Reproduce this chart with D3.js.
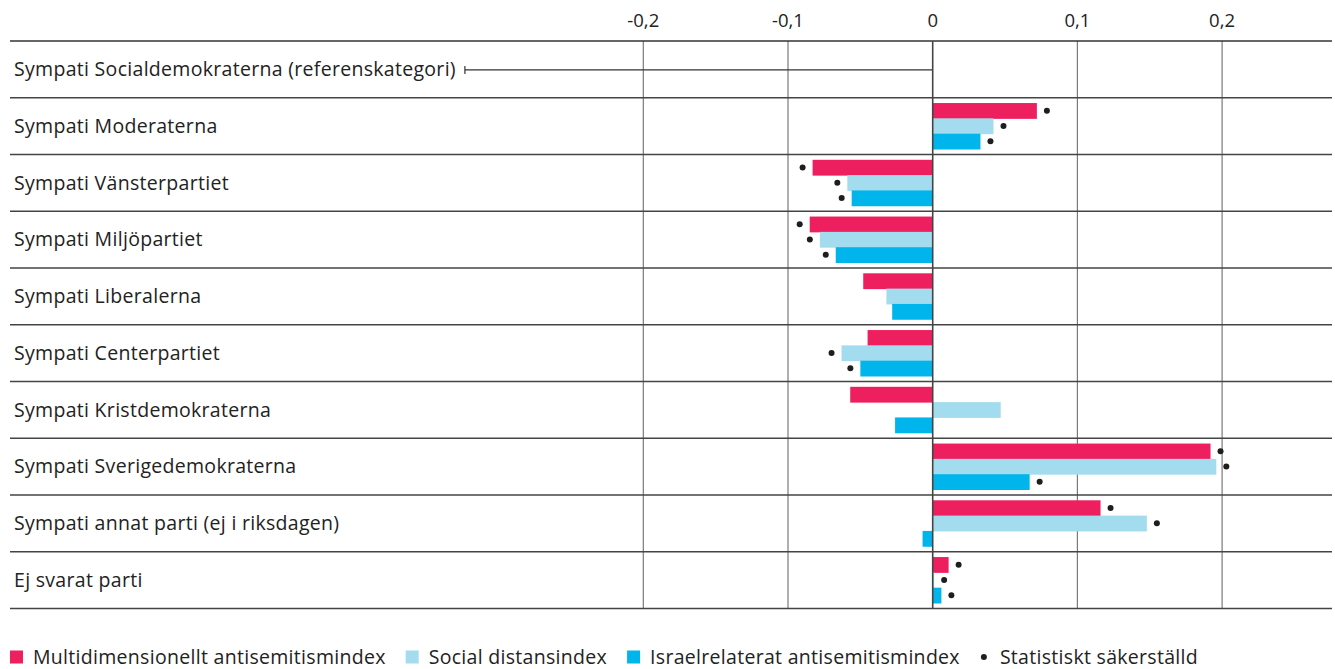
<!DOCTYPE html>
<html>
<head>
<meta charset="utf-8">
<script src="https://cdn.jsdelivr.net/npm/d3@7"></script>
<style>
  body { margin: 0; background: #fff; }
  svg text { font-family: "Open Sans", "Noto Sans", sans-serif; fill: #222; font-size: 19.5px; letter-spacing: 0.3px; }
  svg text.tick { font-size: 18.5px; letter-spacing: 0; }
</style>
</head>
<body>
<div id="chart"></div>
<script>
// categories (top to bottom)
const categories = [
  "Sympati Socialdemokraterna (referenskategori)",
  "Sympati Moderaterna",
  "Sympati Vänsterpartiet",
  "Sympati Miljöpartiet",
  "Sympati Liberalerna",
  "Sympati Centerpartiet",
  "Sympati Kristdemokraterna",
  "Sympati Sverigedemokraterna",
  "Sympati annat parti (ej i riksdagen)",
  "Ej svarat parti"
]
const referenceCategory = "Sympati Socialdemokraterna (referenskategori)"

const seriesNames = [
  "Multidimensionellt antisemitismindex",
  "Social distansindex",
  "Israelrelaterat antisemitismindex"
]
const seriesColors = ["#ee1f5f", "#a3dcee", "#00b5eb"]

// coefficients per category (null = reference category)
const multiValues  = [null, 0.072, -0.083, -0.085, -0.048, -0.045, -0.057, 0.192, 0.116, 0.011]
const socialValues = [null, 0.042, -0.059, -0.078, -0.032, -0.063, 0.047, 0.196, 0.148, 0.001]
const israelValues = [null, 0.033, -0.056, -0.067, -0.028, -0.050, -0.026, 0.067, -0.007, 0.006]

// statistically significant flags
const multiSig  = [false, true, true, true, false, false, false, true, true, true]
const socialSig = [false, true, true, true, false, true, false, true, true, true]
const israelSig = [false, true, true, true, false, true, false, true, false, true]

const tickValues = [-0.2, -0.1, 0, 0.1, 0.2]
const tickLabels = ["-0,2", "-0,1", "0", "0,1", "0,2"]
const sigLabel = "Statistiskt säkerställd"

const width = 1335, height = 669
const frameLeft = 10, frameRight = 1332
const plotTop = 41, plotBottom = 608.5

const svg = d3.select("#chart").append("svg")
  .attr("width", width)
  .attr("height", height)

const x = d3.scaleLinear().domain([-0.2, 0.2]).range([643.3, 1222.1])

const y = d3.scaleBand().domain(categories).range([plotTop, plotBottom]).padding(0)
const ySeries = d3.scaleBand().domain(seriesNames)
  .range([5.3, y.bandwidth() - 5.5]).padding(0)

const series = [
  { name: seriesNames[0], values: multiValues, sig: multiSig, color: seriesColors[0] },
  { name: seriesNames[1], values: socialValues, sig: socialSig, color: seriesColors[1] },
  { name: seriesNames[2], values: israelValues, sig: israelSig, color: seriesColors[2] }
]

// vertical grid
svg.append("g")
  .selectAll("line")
  .data(tickValues.filter(d => d !== 0))
  .join("line")
  .attr("x1", d => x(d)).attr("x2", d => x(d))
  .attr("y1", plotTop).attr("y2", plotBottom)
  .attr("stroke", "#7a7a7a")
  .attr("stroke-width", 1.2)

// tick labels
svg.append("g")
  .selectAll("text")
  .data(tickValues)
  .join("text")
  .attr("class", "tick")
  .attr("x", d => x(d))
  .attr("y", 27)
  .attr("text-anchor", "middle")
  .text((d, i) => tickLabels[i])

// bars
const rows = svg.append("g")
  .selectAll("g")
  .data(categories)
  .join("g")
  .attr("transform", d => `translate(0,${y(d)})`)

const idx = d => categories.indexOf(d)

series.forEach(s => {
  rows.filter(d => s.values[idx(d)] !== null)
    .append("rect")
    .attr("x", d => x(Math.min(0, s.values[idx(d)])))
    .attr("y", ySeries(s.name))
    .attr("width", d => Math.abs(x(s.values[idx(d)]) - x(0)))
    .attr("height", ySeries.bandwidth() + 0.5)
    .attr("fill", s.color)
})

// significance dots
series.forEach(s => {
  rows.filter(d => s.sig[idx(d)])
    .append("circle")
    .attr("cx", d => {
      const v = s.values[idx(d)]
      return x(v) + (v < 0 ? -10 : 10)
    })
    .attr("cy", ySeries(s.name) + ySeries.bandwidth() / 2)
    .attr("r", 3)
    .attr("fill", "#1e1e1e")
})

// row separators
svg.append("g")
  .selectAll("line")
  .data(d3.range(categories.length + 1))
  .join("line")
  .attr("x1", frameLeft).attr("x2", frameRight)
  .attr("y1", i => plotTop + i * y.bandwidth())
  .attr("y2", i => plotTop + i * y.bandwidth())
  .attr("stroke", i => i === 0 ? "#333" : "#444")
  .attr("stroke-width", 1.4)

// zero line
svg.append("line")
  .attr("x1", x(0)).attr("x2", x(0))
  .attr("y1", plotTop).attr("y2", plotBottom)
  .attr("stroke", "#444")
  .attr("stroke-width", 1.6)

// category labels
const labels = rows.append("text")
  .attr("x", 14)
  .attr("y", y.bandwidth() / 2)
  .attr("dy", "0.35em")
  .text(d => d)

// reference line from label to zero
const refLabel = labels.filter(d => d === referenceCategory)
const refEnd = 14 + refLabel.node().getComputedTextLength() + 9
const refRow = rows.filter(d => d === referenceCategory)
refRow.append("line")
  .attr("x1", refEnd).attr("x2", x(0))
  .attr("y1", y.bandwidth() / 2 + 0.5).attr("y2", y.bandwidth() / 2 + 0.5)
  .attr("stroke", "#333").attr("stroke-width", 1.2)
refRow.append("line")
  .attr("x1", refEnd).attr("x2", refEnd)
  .attr("y1", y.bandwidth() / 2 - 3.5).attr("y2", y.bandwidth() / 2 + 4.5)
  .attr("stroke", "#333").attr("stroke-width", 1.2)

// legend
const legend = svg.append("g").attr("transform", "translate(10,657)")
let lx = 0
series.forEach(s => {
  legend.append("rect")
    .attr("x", lx).attr("y", -6.5)
    .attr("width", 13).attr("height", 13)
    .attr("fill", s.color)
  const t = legend.append("text")
    .attr("x", lx + 23).attr("y", 0).attr("dy", "0.35em")
    .text(s.name)
  lx += 23 + t.node().getComputedTextLength() + 20
})
legend.append("circle")
  .attr("cx", lx + 4).attr("cy", 0).attr("r", 3).attr("fill", "#1e1e1e")
legend.append("text")
  .attr("x", lx + 20).attr("y", 0).attr("dy", "0.35em")
  .text(sigLabel)
</script>
</body>
</html>
